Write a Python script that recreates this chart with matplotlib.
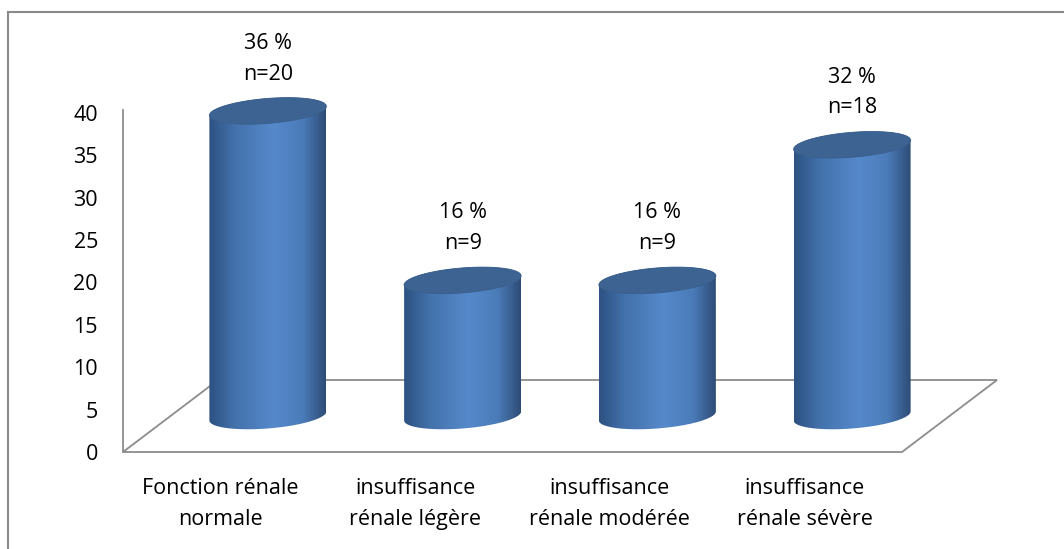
import numpy as np
import matplotlib
matplotlib.use("Agg")
import matplotlib.pyplot as plt
from matplotlib.path import Path
from matplotlib.patches import PathPatch, Polygon
from matplotlib.lines import Line2D
from matplotlib.colors import LinearSegmentedColormap

categories = ["Fonction rénale\nnormale", "insuffisance\nrénale légère",
              "insuffisance\nrénale modérée", "insuffisance\nrénale sévère"]
percent = [36, 16, 16, 32]
counts = [20, 9, 9, 18]
yticks = [0, 5, 10, 15, 20, 25, 30, 35, 40]

plt.rcParams['font.family'] = ['Open Sans', 'DejaVu Sans']
FS = 15.5

W, H = 1064, 549
fig = plt.figure(figsize=(W / 100, H / 100), dpi=100)

# pixel scale of one category step and one value unit on the front plane
px_x, px_y = 194.75, 8.475
xmax, ymax = 4.6, 50
ax = fig.add_axes([123 / W, (H - 452) / H, xmax * px_x / W, ymax * px_y / H])
ax.set_xlim(0, xmax)
ax.set_ylim(0, ymax)

# depth of the floor (front edge -> back edge)
depth_x, depth_y = 95 / px_x, 72 / px_y
mid_x, mid_y = depth_x / 2, depth_y / 2

# floor outline
floor = Polygon([(0, 0), (4, 0), (4 + depth_x, depth_y), (depth_x, depth_y)],
                closed=True, fill=False, edgecolor='#8c8c8c', lw=1.3, zorder=1,
                clip_on=False)
ax.add_patch(floor)

for s in ['top', 'right', 'bottom']:
    ax.spines[s].set_visible(False)
ax.spines['left'].set_color('#8c8c8c')
ax.spines['left'].set_linewidth(1.3)
ax.spines['left'].set_bounds(0, 40.35)

ax.set_yticks(yticks)
ax.set_xticks([i + 0.5 for i in range(len(categories))])
ax.set_xticklabels(categories, linespacing=1.6)
ax.tick_params(axis='y', length=0, pad=18, labelsize=FS)
ax.tick_params(axis='x', length=0, pad=19, labelsize=FS)

# cylinder shading
shade = LinearSegmentedColormap.from_list('cyl', [
    (0.0, '#2d5182'), (0.22, '#4372ab'), (0.55, '#5689cb'),
    (0.8, '#4b7cb9'), (1.0, '#2e4c77')])
grad = shade(np.linspace(0, 1, 256))[None, :, :3]

a = 58.5 / px_x      # half width
b = 12.5 / px_y      # half height of the ellipse
tilt = 4.5 / px_y    # right end sits higher than left end
t = np.linspace(0, 2 * np.pi, 181)


def ellipse(cx, cy, tt):
    return np.column_stack([cx + a * np.cos(tt), cy + b * np.sin(tt) + tilt * np.cos(tt)])


for i, (v, n) in enumerate(zip(percent, counts)):
    cx = i + 0.5 + mid_x
    y0 = mid_y
    y1 = mid_y + v
    lower = ellipse(cx, y0, np.linspace(np.pi, 2 * np.pi, 91))
    upper = ellipse(cx, y1, np.linspace(0, np.pi, 91))
    body = np.vstack([lower, upper, lower[:1]])
    clip = PathPatch(Path(body), transform=ax.transData, facecolor='none', edgecolor='none')
    ax.add_patch(clip)
    im = ax.imshow(grad, extent=[cx - a, cx + a, y0 - 2 * b, y1 + 2 * b],
                   aspect='auto', zorder=3, interpolation='bilinear')
    im.set_clip_path(clip)
    top = Polygon(ellipse(cx, y1, t), closed=True, facecolor='#3c6392',
                  edgecolor='#3a5f8d', lw=0.6, zorder=4)
    ax.add_patch(top)
    ax.annotate(f"{v} %\nn={n}", xy=(cx, y1 + b), xytext=(0, 10),
                textcoords='offset points', ha='center', va='bottom',
                fontsize=FS, linespacing=1.6, annotation_clip=False)

ax.set_xlim(0, xmax)
ax.set_ylim(0, ymax)

# chart area border
fig.add_artist(Line2D([8 / W, 8 / W], [0, (H - 12) / H], color='#8a8a8a', lw=1.5))
fig.add_artist(Line2D([8 / W, 1], [(H - 12) / H, (H - 12) / H], color='#8a8a8a', lw=1.5))

fig.savefig("out.png", dpi=100)
